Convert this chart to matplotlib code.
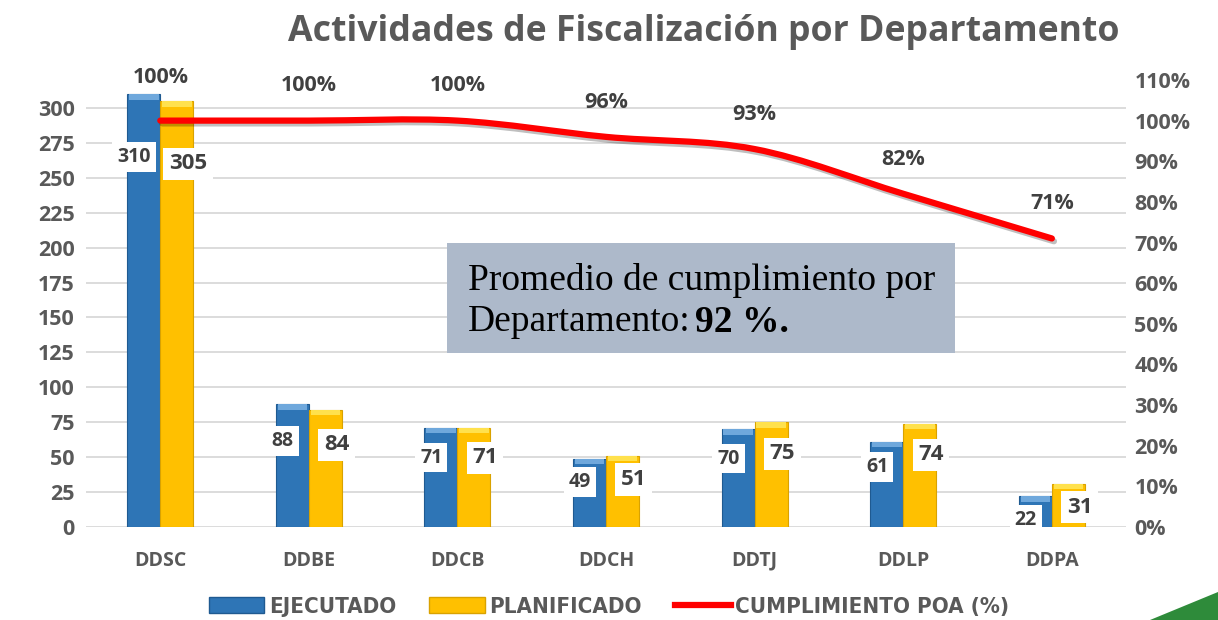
import matplotlib.pyplot as plt
import matplotlib.patheffects as pe
from matplotlib.path import Path
from matplotlib.patches import PathPatch, Polygon, Patch
from matplotlib.lines import Line2D
import numpy as np

# data
departamentos = ['DDSC', 'DDBE', 'DDCB', 'DDCH', 'DDTJ', 'DDLP', 'DDPA']
ejecutado = [310, 88, 71, 49, 70, 61, 22]
planificado = [305, 84, 71, 51, 75, 74, 31]
cumplimiento = [1.00, 1.00, 1.00, 0.96, 0.93, 0.82, 0.71]

GRAY = '#595959'
DARK = '#404040'
BLUE = '#2e75b6'
YELLOW = '#ffc000'

plt.rcParams['font.family'] = ['Open Sans', 'DejaVu Sans']

fig = plt.figure(figsize=(12.18, 6.2), dpi=100)
ax = fig.add_axes([0.0706, 0.15, 0.854, 0.721])
ax2 = ax.twinx()

x = np.arange(len(departamentos))
w = 0.222

ax.bar(x - w / 2, ejecutado, w, color=BLUE, edgecolor='#1f5a91', linewidth=0.8, zorder=3)
ax.bar(x + w / 2, planificado, w, color=YELLOW, edgecolor='#d9a200', linewidth=0.8, zorder=3)

# lighter caps for a bit of the 3D look
for xi, v in zip(x, ejecutado):
    ax.bar(xi - w / 2, 4, w * 0.9, bottom=v - 4, color='#6fa8dc', linewidth=0, zorder=4)
for xi, v in zip(x, planificado):
    ax.bar(xi + w / 2, 4, w * 0.9, bottom=v - 4, color='#ffe14d', linewidth=0, zorder=4)

ax.set_xlim(-0.5, len(departamentos) - 0.5)
ax.set_ylim(0, 320)
ax.set_yticks(range(0, 301, 25))
ax.grid(axis='y', color='#d9d9d9', linewidth=1.3, zorder=0)
ax.set_axisbelow(True)
ax.set_xticks(x)
ax.set_xticklabels(departamentos)
for s in ax.spines.values():
    s.set_visible(False)
for s in ax2.spines.values():
    s.set_visible(False)
ax.tick_params(axis='y', length=0, labelsize=15.5, labelcolor=GRAY, pad=8)
ax.tick_params(axis='x', length=0, labelsize=14, labelcolor=GRAY, pad=17)
for lbl in ax.get_xticklabels() + ax.get_yticklabels():
    lbl.set_fontweight('bold')

ax2.set_ylim(0, 1.1)
ax2.set_yticks(np.arange(0, 1.11, 0.1))
ax2.set_yticklabels([f'{int(round(t * 100))}%' for t in np.arange(0, 1.11, 0.1)])
ax2.tick_params(axis='y', length=0, labelsize=15.5, labelcolor=GRAY, pad=6)
for lbl in ax2.get_yticklabels():
    lbl.set_fontweight('bold')

# smoothed line (Catmull-Rom as bezier)
pts = np.column_stack([x, cumplimiento])
verts = [tuple(pts[0])]
codes = [Path.MOVETO]
for i in range(len(pts) - 1):
    p0 = pts[i - 1] if i > 0 else pts[i]
    p1, p2 = pts[i], pts[i + 1]
    p3 = pts[i + 2] if i + 2 < len(pts) else pts[i + 1]
    c1 = p1 + (p2 - p0) / 6
    c2 = p2 - (p3 - p1) / 6
    verts += [tuple(c1), tuple(c2), tuple(p2)]
    codes += [Path.CURVE4] * 3
line = PathPatch(Path(verts, codes), facecolor='none', edgecolor='#ff0000', linewidth=4.5,
                 capstyle='round', zorder=5,
                 path_effects=[pe.SimpleLineShadow(offset=(1.5, -2), alpha=0.25), pe.Normal()])
ax2.add_patch(line)

for i, (xi, c) in enumerate(zip(x, cumplimiento)):
    off = 31 if i == 0 else 25
    ax2.annotate(f'{int(round(c * 100))}%', (xi, c), xytext=(0, off), textcoords='offset points',
                 ha='center', va='center', fontsize=15.5, fontweight='bold', color=DARK, zorder=6)

# value labels
box = dict(boxstyle='square,pad=0.25', facecolor='white', edgecolor='none')
for xi, v in zip(x, ejecutado):
    ax.annotate(str(v), (xi - w / 2, v - min(45, max(0.3 * v, 17))), xytext=(-7, 0),
                textcoords='offset points', ha='center', va='center', fontsize=14,
                fontweight='bold', color=DARK, bbox=box, zorder=7)
for xi, v in zip(x, planificado):
    ax.annotate(str(v), (xi + w / 2, v - min(45, max(0.3 * v, 17))), xytext=(8, 0),
                textcoords='offset points', ha='center', va='center', fontsize=16,
                fontweight='bold', color=DARK, bbox=box, zorder=7)

# text box
fig.patches.append(Polygon([[447 / 1218, 1 - 243 / 620], [955 / 1218, 1 - 243 / 620],
                            [955 / 1218, 1 - 353 / 620], [447 / 1218, 1 - 353 / 620]],
                           closed=True, transform=fig.transFigure, facecolor='#adb9ca',
                           edgecolor='none', zorder=8))
serif = ['Liberation Serif', 'DejaVu Serif']
fig.text(468 / 1218, 1 - 280 / 620, 'Promedio de cumplimiento por', fontsize=27,
         family=serif, color='black', va='center', zorder=9)
t2 = fig.text(468 / 1218, 1 - 322 / 620, 'Departamento:', fontsize=27,
              family=serif, color='black', va='center', zorder=9)
fig.canvas.draw()
bb = t2.get_window_extent()
fig.text(bb.x1 / fig.bbox.width + 4 / 1218, 1 - 322 / 620, '92 %.', fontsize=27,
         family=serif, fontweight='bold', color='black', va='center', zorder=9)

fig.text(0.578, 1 - 32 / 620, 'Actividades de Fiscalización por Departamento', ha='center',
         va='center', fontsize=25.7, fontweight='bold', color=GRAY)

# legend
handles = [Patch(facecolor=BLUE, edgecolor='#1f5a91'),
           Patch(facecolor=YELLOW, edgecolor='#d9a200'),
           Line2D([0], [0], color='#ff0000', linewidth=4.5)]
leg = fig.legend(handles, ['EJECUTADO', 'PLANIFICADO', 'CUMPLIMIENTO POA (%)'], loc='center',
                 bbox_to_anchor=(0.5, 1 - 607 / 620), ncol=3, frameon=False, handlelength=2.5,
                 handletextpad=0.2, columnspacing=1.5,
                 prop={'family': ['DejaVu Sans'], 'stretch': 'condensed', 'weight': 'bold',
                       'size': 16})
for t in leg.get_texts():
    t.set_color(GRAY)

# green corner decoration
fig.patches.append(Polygon([[1150 / 1218, 0], [1.0, 0], [1.0, 28 / 620]], closed=True,
                           transform=fig.transFigure, facecolor='#2e8b3a', edgecolor='none'))

fig.savefig('out.png', dpi=100)
